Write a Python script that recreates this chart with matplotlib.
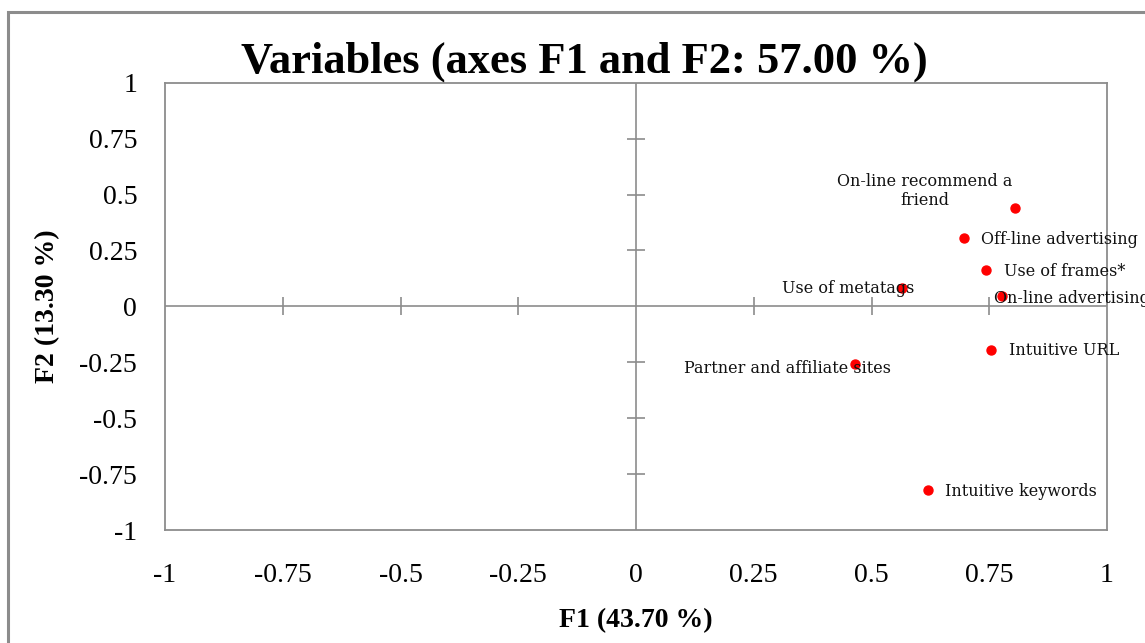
import numpy as np
import matplotlib.pyplot as plt
from matplotlib.patches import Rectangle

# factor loadings
names = ["On-line recommend a\nfriend", "Off-line advertising", "Use of frames*",
         "Use of metatags", "On-line advertising", "Intuitive URL",
         "Partner and affiliate sites", "Intuitive keywords"]
f1 = [0.804, 0.696, 0.743, 0.564, 0.778, 0.753, 0.466, 0.619]
f2 = [0.44, 0.305, 0.161, 0.081, 0.045, -0.193, -0.26, -0.82]

# label placement: (dx px, dy px, ha)
offs = [(-90, 17, 'center'), (17, -1, 'left'), (18, -1, 'left'),
        (-53, 0, 'center'), (-8, -2, 'left'), (18, -1, 'left'),
        (-68, -4, 'center'), (17, -2, 'left')]

ticks = [-1, -0.75, -0.5, -0.25, 0, 0.25, 0.5, 0.75, 1]
tick_labels = ["-1", "-0.75", "-0.5", "-0.25", "0", "0.25", "0.5", "0.75", "1"]

grey = '#8c8c8c'
serif = 'Liberation Serif'

fig = plt.figure(figsize=(11.45, 6.43), dpi=100)
# outer frame, cropped at right and bottom like the original
fig.patches.append(Rectangle((8/1145, -0.1), 1.2, 0.1 + 1 - 12/643,
                             transform=fig.transFigure, fill=False,
                             edgecolor=grey, linewidth=2.2))

ax = fig.add_axes([165/1145, 113/643, 942/1145, 447.3/643])
ax.set_xlim(-1, 1)
ax.set_ylim(-1, 1)
for s in ax.spines.values():
    s.set_color(grey)
    s.set_linewidth(1.3)

ax.axhline(0, color=grey, lw=1.2, zorder=1)
ax.axvline(0, color=grey, lw=1.2, zorder=1)
inner = [t for t in ticks if t not in (-1, 0, 1)]
ax.plot(inner, np.zeros(len(inner)), ls='none', marker='|', ms=13,
        mew=1.2, color=grey, zorder=1)
ax.plot(np.zeros(len(inner)), inner, ls='none', marker='_', ms=13,
        mew=1.2, color=grey, zorder=1)

ax.set_xticks(ticks)
ax.set_xticklabels(tick_labels)
ax.set_yticks(ticks)
ax.set_yticklabels(tick_labels)
ax.tick_params(axis='x', length=0, pad=24, labelsize=20)
ax.tick_params(axis='y', length=0, pad=20, labelsize=20)
for lab in ax.get_xticklabels() + ax.get_yticklabels():
    lab.set_fontfamily(serif)

ax.scatter(f1, f2, s=42, color='#ff0000', zorder=3)
for x, y, n, (dx, dy, ha) in zip(f1, f2, names, offs):
    ax.annotate(n, (x, y), xytext=(dx, dy), textcoords='offset pixels',
                ha=ha, va='center', fontsize=11.5, family='DejaVu Serif',
                color='#111111', annotation_clip=False, clip_on=False,
                zorder=4)

fig.text(584/1145, 1 - 62/643, "Variables (axes F1 and F2: 57.00 %)",
         ha='center', va='center', fontsize=32, fontweight='bold', family=serif)
ax.set_xlabel("F1 (43.70 %)", fontsize=20, fontweight='bold', family=serif,
              labelpad=14)
ax.set_ylabel("F2 (13.30 %)", fontsize=20, fontweight='bold', family=serif,
              labelpad=14)

fig.savefig("out.png", dpi=100)
